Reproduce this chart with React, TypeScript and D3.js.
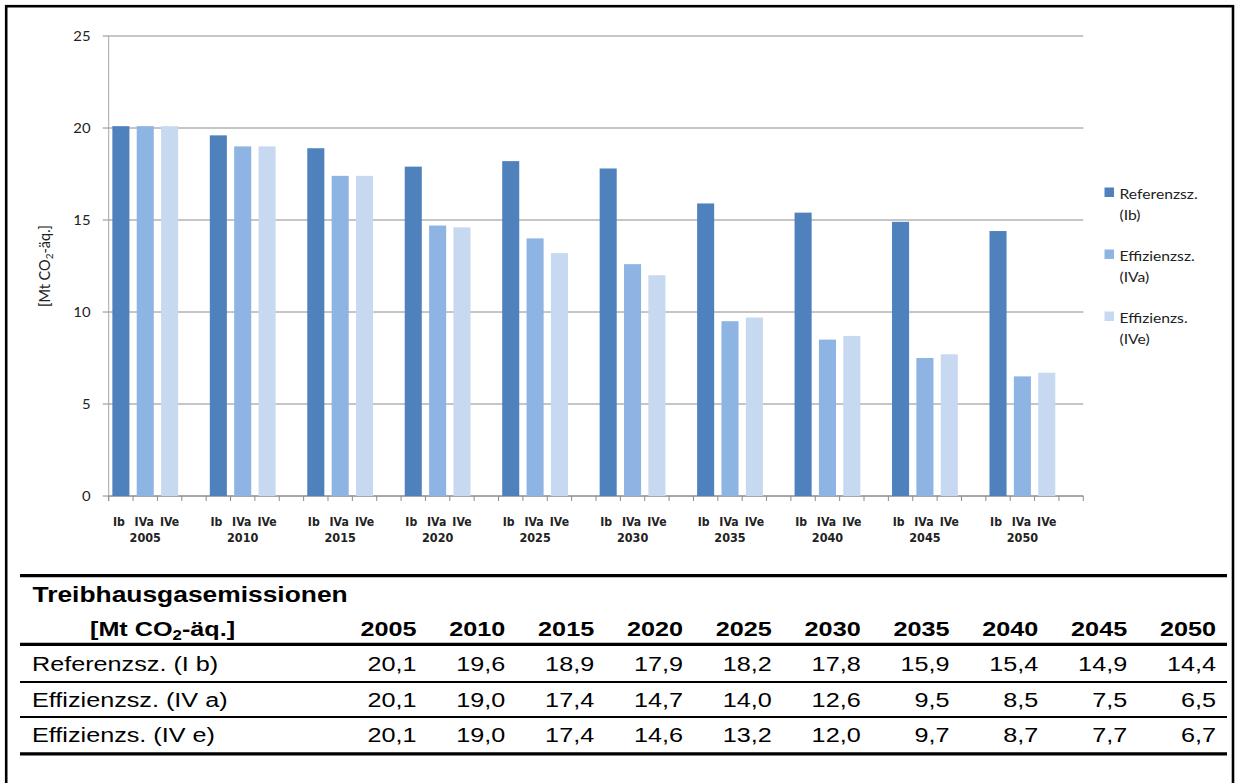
import React from "react";
import * as d3 from "d3";

// Emission scenarios, Mt CO2-equivalent
const years = ["2005", "2010", "2015", "2020", "2025", "2030", "2035", "2040", "2045", "2050"];
const slotKeys = ["Ib", "IVa", "IVe", "gap"];
const seriesKeys = ["Ib", "IVa", "IVe"];
const referenzIb = [20.1, 19.6, 18.9, 17.9, 18.2, 17.8, 15.9, 15.4, 14.9, 14.4];
const effizienzIVa = [20.1, 19.0, 17.4, 14.7, 14.0, 12.6, 9.5, 8.5, 7.5, 6.5];
const effizienzIVe = [20.1, 19.0, 17.4, 14.6, 13.2, 12.0, 9.7, 8.7, 7.7, 6.7];
const seriesColors = ["#4F81BD", "#8DB4E2", "#C6D9F1"];
const yTicks = [0, 5, 10, 15, 20, 25];
const legendLines = [
  ["Referenzsz.", "(Ib)"],
  ["Effizienzsz.", "(IVa)"],
  ["Effizienzs.", "(IVe)"],
];
const tableRowLabels = ["Referenzsz. (I b)", "Effizienzsz. (IV a)", "Effizienzs. (IV e)"];

const seriesValues = [referenzIb, effizienzIVa, effizienzIVe];

const W = 1235;
const H = 783;
const SX = 1.2; // horizontal glyph stretch of the printed page

const chartFont = "Lato, 'Open Sans', sans-serif";
const axisFont = "'DejaVu Sans', Verdana, sans-serif";
const tableFont = "'Liberation Sans', Arial, sans-serif";

type TProps = {
  x: number;
  y: number;
  anchor?: "start" | "middle" | "end";
  size: number;
  family: string;
  weight?: string | number;
  fill?: string;
  sx?: number;
  children: React.ReactNode;
};

function T({ x, y, anchor = "start", size, family, weight = "normal", fill = "#000", sx = SX, children }: TProps) {
  return (
    <text
      transform={`translate(${x},${y}) scale(${sx},1)`}
      textAnchor={anchor}
      fontSize={size}
      fontFamily={family}
      fontWeight={weight}
      fill={fill}
    >
      {children}
    </text>
  );
}

const fmt = (v: number) => d3.format(".1f")(v).replace(".", ",");

export default function App() {
  // Plot area
  const plotLeft = 108.7;
  const plotRight = 1083.3;
  const plotTop = 36;
  const plotBottom = 496;

  const y = d3.scaleLinear().domain([0, 25]).range([plotBottom, plotTop]);
  const xYear = d3.scaleBand<string>().domain(years).range([plotLeft, plotRight]).padding(0);
  const xSlot = d3
    .scaleBand<string>()
    .domain(slotKeys)
    .range([0, xYear.bandwidth()])
    .paddingInner(0.3)
    .paddingOuter(0.15);
  const slotStep = xYear.bandwidth() / slotKeys.length;

  const tickXs: number[] = [];
  years.forEach((yr) => {
    slotKeys.forEach((_, i) => tickXs.push((xYear(yr) as number) + i * slotStep));
  });
  tickXs.push(plotRight);

  // Table geometry
  const colRight = d3.scaleLinear().domain([0, years.length - 1]).range([416.5, 1216]);
  const tableLeft = 20;
  const tableRight = 1227;
  const rowBaselines = [671, 706.5, 742];

  return (
    <svg
      width={W}
      height={H}
      viewBox={`0 0 ${W} ${H}`}
      style={{ position: "absolute", left: 0, top: 0, background: "#fff" }}
    >
      <rect x={0} y={0} width={W} height={H} fill="#fff" />
      {/* outer frame */}
      <rect x={6.2} y={6.2} width={1226.8} height={H + 20} fill="none" stroke="#000" strokeWidth={2.6} />

      {/* gridlines */}
      {yTicks.map((t) => (
        <line
          key={`g${t}`}
          x1={plotLeft - 6}
          x2={plotRight}
          y1={y(t)}
          y2={y(t)}
          stroke="#8c8c8c"
          strokeWidth={1}
        />
      ))}
      {/* y axis line */}
      <line x1={plotLeft} x2={plotLeft} y1={plotTop} y2={plotBottom + 5} stroke="#a6a6a6" strokeWidth={1} />
      {/* x axis line and ticks */}
      <line x1={plotLeft} x2={plotRight} y1={plotBottom} y2={plotBottom} stroke="#8c8c8c" strokeWidth={1} />
      {tickXs.map((tx, i) => (
        <line key={`t${i}`} x1={tx} x2={tx} y1={plotBottom} y2={plotBottom + 5} stroke="#8c8c8c" strokeWidth={1} />
      ))}

      {/* y tick labels */}
      {yTicks.map((t) => (
        <T key={`yl${t}`} x={90.5} y={y(t) + 5} anchor="end" size={13.5} family={chartFont} fill="#222" sx={1.1}>
          {t}
        </T>
      ))}

      {/* y axis title */}
      <text
        transform={`translate(50,266) rotate(-90)`}
        textAnchor="middle"
        fontSize={14.5}
        fontFamily={chartFont}
        fill="#222"
      >
        [Mt CO
        <tspan fontSize={10} dy={3}>2</tspan>
        <tspan dy={-3}>-äq.]</tspan>
      </text>

      {/* bars */}
      {seriesKeys.map((key, si) =>
        years.map((yr, yi) => {
          const v = seriesValues[si][yi];
          const bx = (xYear(yr) as number) + (xSlot(key) as number);
          return (
            <rect
              key={`${key}-${yr}`}
              x={bx}
              y={y(v)}
              width={xSlot.bandwidth()}
              height={y(0) - y(v)}
              fill={seriesColors[si]}
            />
          );
        })
      )}

      {/* category labels */}
      {years.map((yr) => {
        const gx = xYear(yr) as number;
        return (
          <g key={`cl${yr}`}>
            {seriesKeys.map((key, si) => (
              <T
                key={key}
                x={gx + (xSlot(key) as number) + xSlot.bandwidth() / 2 + (si === 0 ? -2 : si === 1 ? -1 : 0)}
                y={525.5}
                anchor="middle"
                size={11.5}
                family={axisFont}
                weight="bold"
                fill="#222"
                sx={0.95}
              >
                {key}
              </T>
            ))}
            <T
              x={gx + (xSlot("IVa") as number) + xSlot.bandwidth() / 2}
              y={542}
              anchor="middle"
              size={11.5}
              family={axisFont}
              weight="bold"
              fill="#222"
              sx={0.98}
            >
              {yr}
            </T>
          </g>
        );
      })}

      {/* legend */}
      {legendLines.map((lines, i) => {
        const ly = 187.5 + i * 62;
        return (
          <g key={`lg${i}`}>
            <rect x={1104.5} y={ly} width={9.5} height={9.5} fill={seriesColors[i]} />
            <T x={1119.5} y={ly + 11} size={14} family={chartFont} fill="#222" sx={1.12}>
              {lines[0]}
            </T>
            <T x={1119.5} y={ly + 32} size={14} family={chartFont} fill="#222" sx={1.12}>
              {lines[1]}
            </T>
          </g>
        );
      })}

      {/* table rules */}
      <line x1={tableLeft} x2={tableRight} y1={575.7} y2={575.7} stroke="#000" strokeWidth={3.3} />
      <line x1={tableLeft} x2={tableRight} y1={644.3} y2={644.3} stroke="#000" strokeWidth={3.3} />
      <line x1={tableLeft} x2={tableRight} y1={682} y2={682} stroke="#000" strokeWidth={2} />
      <line x1={tableLeft} x2={tableRight} y1={717} y2={717} stroke="#000" strokeWidth={2} />
      <line x1={tableLeft} x2={tableRight} y1={753.8} y2={753.8} stroke="#000" strokeWidth={3.3} />

      {/* table header */}
      <T x={32.5} y={602} size={22} family={tableFont} weight="bold">
        Treibhausgasemissionen
      </T>
      <text
        transform={`translate(90,635.7) scale(${SX},1)`}
        fontSize={21}
        fontFamily={tableFont}
        fontWeight="bold"
      >
        [Mt CO
        <tspan fontSize={14} dy={4}>2</tspan>
        <tspan dy={-4}>-äq.]</tspan>
      </text>
      {years.map((yr, i) => (
        <T key={`th${yr}`} x={colRight(i)} y={635.7} anchor="end" size={21} family={tableFont} weight="bold">
          {yr}
        </T>
      ))}

      {/* table body */}
      {tableRowLabels.map((label, ri) => (
        <g key={`row${ri}`}>
          <T x={32} y={rowBaselines[ri]} size={21} family={tableFont}>
            {label}
          </T>
          {seriesValues[ri].map((v, ci) => (
            <T key={`c${ci}`} x={colRight(ci)} y={rowBaselines[ri]} anchor="end" size={21} family={tableFont}>
              {fmt(v)}
            </T>
          ))}
        </g>
      ))}
    </svg>
  );
}
